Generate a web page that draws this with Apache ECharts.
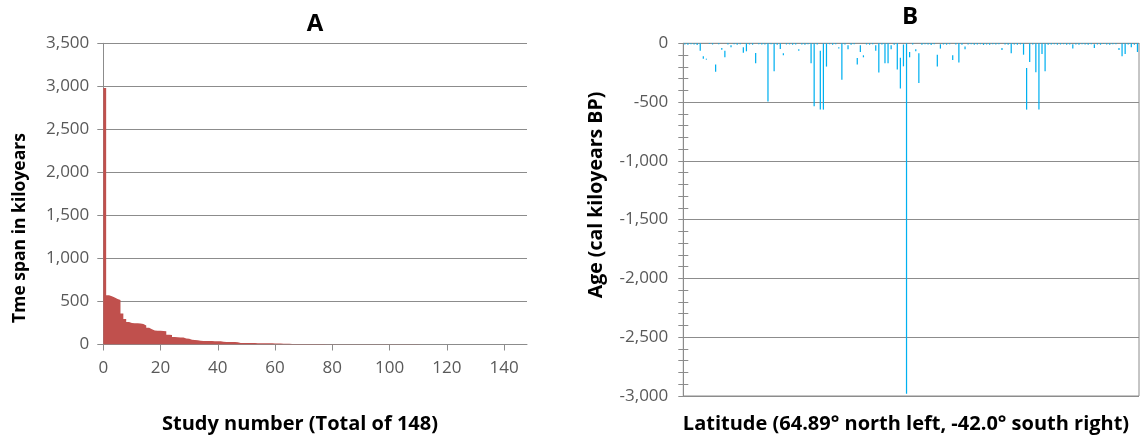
<!DOCTYPE html>
<html>
<head>
<meta charset="utf-8">
<script src="https://cdn.jsdelivr.net/npm/echarts@6/dist/echarts.min.js"></script>
<style>
  html, body { margin: 0; padding: 0; background: #fff; }
  #chart { width: 1143px; height: 439px; }
</style>
</head>
<body>
<div id="chart"></div>
<script>
// Panel A: time span of each study (kiloyears), sorted from longest to shortest
const spanKyr = [
  2980, 572, 560, 545, 530, 516, 360, 296, 262, 250,
  248, 247, 244, 238, 222, 196, 178, 163, 161, 159,
  157, 155, 112, 110, 86, 84, 82, 80, 70, 66,
  56, 53, 50, 43, 42, 41, 40, 40, 39, 39,
  38, 31, 30, 29, 28, 28, 27, 18, 17, 17,
  16, 16, 16, 15, 15, 15, 14, 14, 14, 13,
  13, 12, 9, 8, 8, 7, 7, 7, 6, 6,
  6, 6, 5, 5, 5, 5, 5, 4, 4, 4,
  4, 4, 4, 3, 3, 3, 3, 3, 3, 3,
  3, 2.5, 2.5, 2.5, 2.5, 2.5, 2, 2, 2, 2,
  2, 2, 2, 2, 1.8, 1.8, 1.6, 1.6, 1.5, 1.5,
  1.4, 1.4, 1.3, 1.2, 1.2, 1.1, 1.1, 1, 1, 1,
  0.9, 0.9, 0.8, 0.8, 0.8, 0.7, 0.7, 0.7, 0.6, 0.6,
  0.6, 0.5, 0.5, 0.5, 0.5, 0.4, 0.4, 0.4, 0.4, 0.3,
  0.3, 0.3, 0.3, 0.2, 0.2, 0.2, 0.2, 0.1
];
const studyTicks = [0, 20, 40, 60, 80, 100, 120, 140];
const spanTicks = [0, 500, 1000, 1500, 2000, 2500, 3000, 3500];

// Panel B: age range of each study (cal kiloyears BP), sites ordered by latitude north -> south
const youngAge = [
  0, 0, 0, 0, 0, 0, 110, 131, 0, 0,
  181, 0, 40, 63, 0, 17, 0, 0, 0, 34,
  0, 0, 0, 82, 0, 0, 0, 0, 0, 0,
  0, 0, 85, 0, 0, 0, 0, 51, 0, 0,
  0, 0, 0, 0, 63, 0, 0, 0, 0, 0,
  34, 0, 0, 17, 0, 0, 125, 17, 102, 0,
  0, 0, 17, 0, 0, 0, 0, 17, 0, 0,
  122, 10, 0, 74, 0, 51, 85, 0, 0, 0,
  0, 0, 97, 8, 0, 0, 0, 102, 0, 0,
  0, 28, 0, 0, 0, 0, 0, 0, 0, 0,
  0, 0, 0, 40, 0, 0, 0, 0, 0, 0,
  0, 210, 0, 0, 0, 0, 0, 0, 0, 0,
  0, 0, 0, 0, 0, 0, 8, 0, 0, 0,
  0, 0, 0, 8, 0, 0, 0, 0, 0, 0,
  0, 40, 0, 0, 0, 0, 0, 0
];
const oldAge = [
  10, 12, 8, 10, 14, 63, 131, 139, 6, 10,
  241, 8, 54, 119, 10, 34, 9, 12, 8, 80,
  68, 10, 12, 170, 9, 11, 10, 495, 8, 238,
  12, 48, 102, 10, 9, 12, 10, 63, 10, 12,
  9, 170, 535, 10, 564, 564, 198, 8, 12, 9,
  45, 309, 10, 51, 12, 9, 181, 74, 119, 10,
  12, 8, 63, 249, 10, 170, 170, 51, 12, 222,
  385, 196, 2980, 119, 10, 68, 337, 12, 9, 10,
  14, 8, 198, 45, 10, 12, 9, 142, 10, 164,
  12, 51, 10, 9, 12, 10, 8, 14, 10, 12,
  9, 10, 8, 57, 10, 12, 85, 10, 12, 9,
  97, 564, 159, 10, 246, 564, 91, 238, 12, 10,
  9, 12, 10, 8, 12, 10, 45, 10, 12, 9,
  10, 12, 8, 40, 10, 12, 6, 10, 12, 9,
  8, 57, 110, 91, 10, 34, 12, 74
];
const ageTicks = [0, -500, -1000, -1500, -2000, -2500, -3000];

const sites = youngAge.map((_, i) => i + 1);

const GRID_GRAY = '#8c8c8c';
const LABEL_GRAY = '#595959';
const FONT = '"Open Sans", "Noto Sans", sans-serif';
const fmt = v => Number(v).toLocaleString('en-US');

const labelStyle = { color: LABEL_GRAY, fontFamily: FONT, fontSize: 17 };
const titleStyle = { fill: '#000', fontFamily: FONT, fontWeight: 'bold' };

// Columns of panel A touch each other, so they are drawn as one stepped area:
// study i occupies [i, i + 1] on the study-number axis.
const spanSteps = spanKyr.map((v, i) => [i, v]);
spanSteps.push([spanKyr.length, spanKyr[spanKyr.length - 1]]);

const chart = echarts.init(document.getElementById('chart'), null, { renderer: 'canvas' });

chart.setOption({
  animation: false,
  backgroundColor: '#ffffff',
  grid: [
    { left: 103.3, top: 43.3, width: 423.7, height: 301.2, outerBoundsMode: 'none' },
    { left: 683.3, top: 43.3, width: 455.7, height: 352.7, outerBoundsMode: 'none',
      show: true, borderColor: GRID_GRAY, borderWidth: 1 }
  ],
  xAxis: [
    {
      gridIndex: 0, type: 'value', min: 0, max: spanKyr.length,
      axisLine: { show: true, lineStyle: { color: GRID_GRAY, width: 1 } },
      axisTick: { show: true, length: 6, customValues: studyTicks, lineStyle: { color: GRID_GRAY } },
      axisLabel: { customValues: studyTicks, margin: 15, ...labelStyle },
      splitLine: { show: false }
    },
    {
      gridIndex: 1, type: 'category', data: sites, position: 'top',
      boundaryGap: true,
      axisLine: { show: true, onZero: false, lineStyle: { color: GRID_GRAY, width: 1 } },
      axisTick: { show: false },
      axisLabel: { show: false },
      splitLine: { show: false }
    }
  ],
  yAxis: [
    {
      gridIndex: 0, type: 'value', min: spanTicks[0], max: spanTicks[spanTicks.length - 1], interval: 500,
      axisLine: { show: true, lineStyle: { color: GRID_GRAY, width: 1 } },
      axisTick: { show: true, length: 6, lineStyle: { color: GRID_GRAY } },
      axisLabel: { margin: 14, formatter: fmt, ...labelStyle },
      splitLine: { show: true, lineStyle: { color: GRID_GRAY, width: 1 } }
    },
    {
      gridIndex: 1, type: 'value', position: 'left',
      min: ageTicks[ageTicks.length - 1], max: ageTicks[0], interval: 500,
      axisLine: { show: true, onZero: false, lineStyle: { color: GRID_GRAY, width: 1 } },
      axisTick: { show: true, length: 5, lineStyle: { color: GRID_GRAY } },
      minorTick: { show: true, splitNumber: 5, length: 5, lineStyle: { color: GRID_GRAY } },
      axisLabel: { margin: 15, formatter: fmt, ...labelStyle },
      splitLine: { show: true, lineStyle: { color: GRID_GRAY, width: 1 } }
    },
    {
      // same scale, ticks pointing into the plot so they cross the axis line
      gridIndex: 1, type: 'value', position: 'left',
      min: ageTicks[ageTicks.length - 1], max: ageTicks[0], interval: 500,
      axisLine: { show: false },
      axisTick: { show: true, inside: true, length: 5, lineStyle: { color: GRID_GRAY } },
      minorTick: { show: true, splitNumber: 5, length: 5, lineStyle: { color: GRID_GRAY } },
      axisLabel: { show: false },
      splitLine: { show: false }
    }
  ],
  series: [
    {
      name: 'Time span', type: 'line', xAxisIndex: 0, yAxisIndex: 0,
      data: spanSteps,
      step: 'end',
      symbol: 'none',
      lineStyle: { width: 0, opacity: 0 },
      areaStyle: { color: '#C0504D', opacity: 1 },
      silent: true
    },
    {
      name: 'Young age', type: 'bar', xAxisIndex: 1, yAxisIndex: 1,
      stack: 'age', stackStrategy: 'all',
      data: youngAge.map(v => -v),
      barCategoryGap: '60%',
      itemStyle: { color: 'rgba(0,0,0,0)' },
      silent: true
    },
    {
      name: 'Age range', type: 'bar', xAxisIndex: 1, yAxisIndex: 1,
      stack: 'age', stackStrategy: 'all',
      data: oldAge.map((v, i) => -(v - youngAge[i])),
      barCategoryGap: '60%',
      itemStyle: { color: '#00B0F0' },
      silent: true
    }
  ],
  graphic: [
    { type: 'text', x: 315, y: 24, style: { text: 'A', align: 'center', verticalAlign: 'middle', ...titleStyle, fontSize: 24 } },
    { type: 'text', x: 910, y: 17, style: { text: 'B', align: 'center', verticalAlign: 'middle', ...titleStyle, fontSize: 24 } },
    { type: 'text', x: 20, y: 228, rotation: Math.PI / 2,
      style: { text: 'Tme span in kiloyears', align: 'center', verticalAlign: 'middle', ...titleStyle, fontSize: 17.5 } },
    { type: 'text', x: 300, y: 424,
      style: { text: 'Study number (Total of 148)', align: 'center', verticalAlign: 'middle', ...titleStyle, fontSize: 20 } },
    { type: 'text', x: 596, y: 195, rotation: Math.PI / 2,
      style: { text: 'Age (cal kiloyears BP)', align: 'center', verticalAlign: 'middle', ...titleStyle, fontSize: 19.5 } },
    { type: 'text', x: 906, y: 424,
      style: { text: 'Latitude (64.89\u00b0 north left, -42.0\u00b0 south right)', align: 'center', verticalAlign: 'middle', ...titleStyle, fontSize: 20 } }
  ]
});
</script>
</body>
</html>
